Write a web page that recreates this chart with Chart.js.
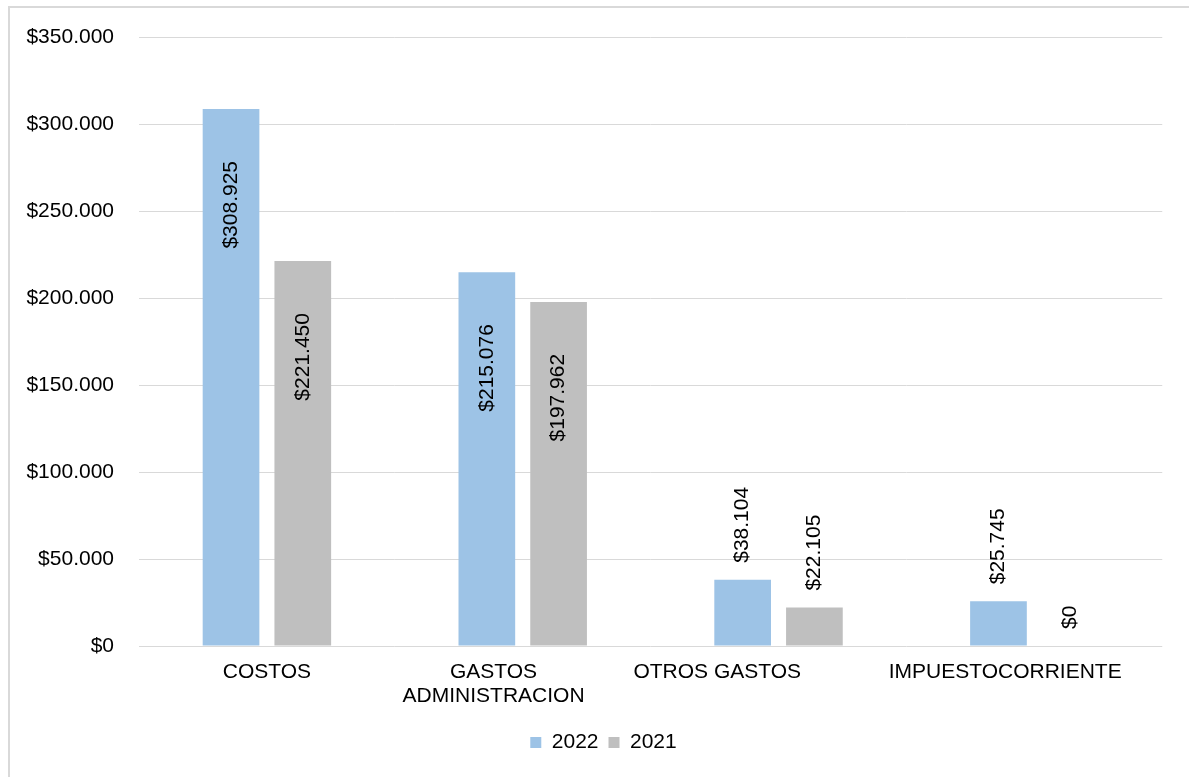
<!DOCTYPE html>
<html>
<head>
<meta charset="utf-8">
<script src="https://cdn.jsdelivr.net/npm/chart.js@4"></script>
<style>
  html, body { margin: 0; padding: 0; background: #fff; }
  #frame { position: absolute; left: 8px; top: 6px; right: 0; bottom: 0;
           border-left: 2px solid #d9d9d9; border-top: 2px solid #d9d9d9; }
  #wrap { position: absolute; left: 0; top: 0; width: 1189px; height: 777px; }
</style>
</head>
<body>
<div id="frame"></div>
<div id="wrap"><canvas id="grafico" width="1189" height="777"></canvas></div>
<script>
// valores
var categorias = ['COSTOS', ['GASTOS', 'ADMINISTRACION'], 'OTROS GASTOS', 'IMPUESTOCORRIENTE'];
var valores2022 = [308925, 215076, 38104, 25745];
var valores2021 = [221450, 197962, 22105, 0];
var ticksY = [0, 50000, 100000, 150000, 200000, 250000, 300000, 350000];
// espacios finales que traen las etiquetas del libro original
var espaciosFinales = [0, 10, 21, 10];

var fuente = '"Liberation Sans", Arial, sans-serif';

function pesos(v) {
    return '$' + String(Math.round(v)).replace(/\B(?=(\d{3})+(?!\d))/g, '.');
}

function conEspacios(lbl, n) {
    var pad = new Array(n + 1).join('\u00a0');
    if (Array.isArray(lbl)) return lbl.map(function (l) { return l + pad; });
    return lbl + pad;
}

// etiquetas verticales sobre las barras
var etiquetas = {
    id: 'etiquetas',
    afterLayout: function (chart) {
        // la leyenda del original queda un poco a la derecha
        chart.legend.left += 21;
        chart.legend.right += 21;
    },
    afterDatasetsDraw: function (chart) {
        var ctx = chart.ctx;
        ctx.save();
        ctx.font = '21px ' + fuente;
        ctx.fillStyle = '#000';
        ctx.textBaseline = 'middle';
        chart.data.datasets.forEach(function (ds, i) {
            chart.getDatasetMeta(i).data.forEach(function (bar, j) {
                var v = ds.data[j];
                ctx.save();
                if (v > 100000) {
                    ctx.translate(bar.x, bar.y + 52);
                    ctx.rotate(-Math.PI / 2);
                    ctx.textAlign = 'right';
                } else {
                    ctx.translate(bar.x, bar.y - 17);
                    ctx.rotate(-Math.PI / 2);
                    ctx.textAlign = 'left';
                }
                ctx.fillText(pesos(v), 0, 0);
                ctx.restore();
            });
        });
        ctx.restore();
    }
};

new Chart(document.getElementById('grafico').getContext('2d'), {
    type: 'bar',
    data: {
        labels: categorias.map(function (c, i) { return conEspacios(c, espaciosFinales[i]); }),
        datasets: [{
            label: '2022',
            data: valores2022,
            backgroundColor: '#9dc3e6',
            categoryPercentage: 0.561,
            barPercentage: 0.79
        }, {
            label: '2021',
            data: valores2021,
            backgroundColor: '#bfbfbf',
            categoryPercentage: 0.561,
            barPercentage: 0.79
        }]
    },
    options: {
        responsive: false,
        animation: false,
        layout: { padding: { left: 0, right: 24, top: 37, bottom: 14 } },
        plugins: {
            tooltip: { enabled: false },
            legend: {
                position: 'bottom',
                labels: {
                    boxWidth: 11,
                    boxHeight: 11,
                    padding: 10,
                    color: '#000',
                    font: { size: 21, family: fuente }
                }
            }
        },
        scales: {
            x: {
                grid: { display: false },
                border: { display: false },
                ticks: {
                    color: '#000',
                    font: { size: 21, family: fuente, lineHeight: 1.15 },
                    padding: 6,
                    maxRotation: 0,
                    autoSkip: false
                },
                afterFit: function (s) { s.height = 76; }
            },
            y: {
                min: 0,
                max: 350000,
                afterBuildTicks: function (s) {
                    s.ticks = ticksY.map(function (v) { return { value: v }; });
                },
                grid: { color: '#d9d9d9', lineWidth: 1, drawTicks: false },
                border: { display: false },
                ticks: {
                    color: '#000',
                    font: { size: 21, family: fuente },
                    padding: 25,
                    callback: function (v) { return pesos(v); }
                },
                afterFit: function (s) { s.width = 139; }
            }
        }
    },
    plugins: [etiquetas]
});
</script>
</body>
</html>
